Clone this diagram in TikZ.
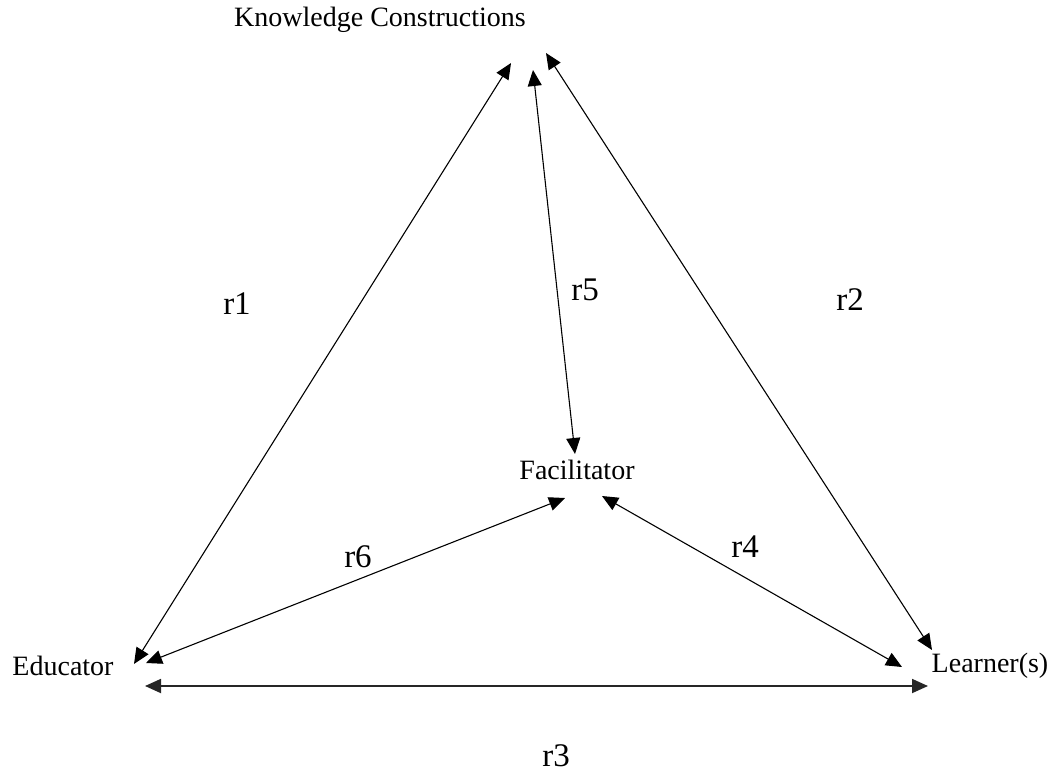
\documentclass[tikz,border=0pt]{standalone}
\usepackage{fontspec}
\setmainfont{Liberation Serif}
\usetikzlibrary{arrows.meta}
\begin{document}
\begin{tikzpicture}[x=1pt,y=-1pt,
  lbl/.style={inner sep=0pt, font=\fontsize{28}{33}\selectfont},
  rlbl/.style={inner sep=0pt, font=\fontsize{33}{39}\selectfont},
  link/.style={line width=1.1pt, {Triangle[length=16pt,width=14pt]}-{Triangle[length=16pt,width=14pt]}},
  thick link/.style={link, line width=1.8pt, draw=black!85}]
\useasboundingbox (0,0) rectangle (1054,776);
% main nodes
\node[lbl] (kc) at (380,20) {Knowledge Constructions};
\node[lbl] (fac) at (577,470) {Facilitator};
\node[lbl] (edu) at (63,666) {Educator};
\node[lbl] (lea) at (990,666) {Learner(s)};
% connector end points
\coordinate (kc1) at (511,63);
\coordinate (kc5) at (533,70);
\coordinate (kc2) at (546,53);
\coordinate (fac5) at (575,454);
\coordinate (fac6) at (565,498);
\coordinate (fac4) at (602,496);
\coordinate (edu1) at (134,664);
\coordinate (edu6) at (146,663);
\coordinate (edu3) at (145,686);
\coordinate (lea2) at (932,650);
\coordinate (lea4) at (902,667);
\coordinate (lea3) at (928,686);
% connectors
\draw[link] (edu1) -- (kc1);
\draw[link] (fac5) -- (kc5);
\draw[link] (lea2) -- (kc2);
\draw[link] (edu6) -- (fac6);
\draw[link] (lea4) -- (fac4);
\draw[thick link] (edu3) -- (lea3);
% labels
\node[rlbl] (r1) at (237,304) {r1};
\node[rlbl] (r5) at (585,290) {r5};
\node[rlbl] (r2) at (850,300) {r2};
\node[rlbl] (r6) at (358,557) {r6};
\node[rlbl] (r4) at (745,547) {r4};
\node[rlbl] (r3) at (556,756) {r3};
\end{tikzpicture}
\end{document}
